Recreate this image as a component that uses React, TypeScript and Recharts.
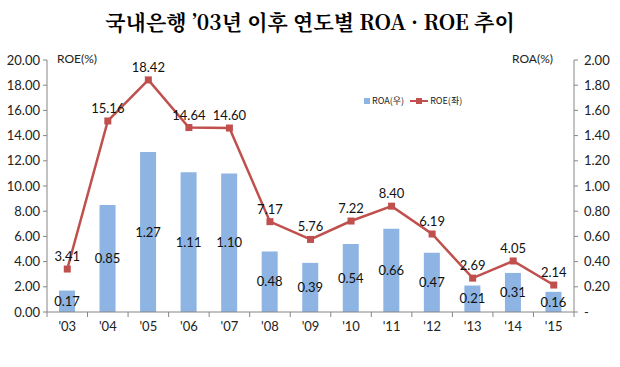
import React from "react";
import {
  ComposedChart,
  Bar,
  Line,
  XAxis,
  YAxis,
  LabelList,
} from "recharts";

const YEARS = ["'03", "'04", "'05", "'06", "'07", "'08", "'09", "'10", "'11", "'12", "'13", "'14", "'15"];
const ROA = [0.17, 0.85, 1.27, 1.11, 1.1, 0.48, 0.39, 0.54, 0.66, 0.47, 0.21, 0.31, 0.16];
const ROE = [3.41, 15.16, 18.42, 14.64, 14.6, 7.17, 5.76, 7.22, 8.4, 6.19, 2.69, 4.05, 2.14];
const LEFT_TICKS = [0, 2, 4, 6, 8, 10, 12, 14, 16, 18, 20];
const RIGHT_TICKS = [0, 0.2, 0.4, 0.6, 0.8, 1.0, 1.2, 1.4, 1.6, 1.8, 2.0];

const data = YEARS.map((year, i) => ({ year, roa: ROA[i], roe: ROE[i] }));

const BAR_COLOR = "#8db4e2";
const LINE_COLOR = "#c0504d";
const AXIS_COLOR = "#868686";
const FONT = "Lato, 'Noto Sans CJK KR', sans-serif";

// category label plus the tick mark on the band boundary (Excel style)
function YearTick(props: any) {
  const { x, y, payload, index } = props;
  const half = typeof payload.offset === "number" && payload.offset > 0 ? payload.offset : 20.27;
  const last = index === YEARS.length - 1;
  const top = y - 5;
  return (
    <g>
      <path
        d={`M${x - half},${top}V${top + 5}` + (last ? `M${x + half},${top}V${top + 5}` : "")}
        stroke={AXIS_COLOR}
        strokeWidth={1}
        fill="none"
      />
      <text x={x} y={y + 14} textAnchor="middle" fontSize={13} fill="#222" fontFamily={FONT}>
        {payload.value}
      </text>
    </g>
  );
}

function Legendish() {
  return (
    <div
      style={{
        position: "absolute",
        left: 364,
        top: 94,
        display: "flex",
        alignItems: "center",
        fontFamily: "'Noto Sans CJK KR', sans-serif",
        fontSize: 9,
        color: "#222",
      }}
    >
      <span style={{ width: 6, height: 6, background: BAR_COLOR, display: "inline-block", marginRight: 2 }} />
      <span style={{ marginRight: 6 }}>ROA(우)</span>
      <span style={{ position: "relative", width: 18, height: 6, display: "inline-block", marginRight: 2 }}>
        <span style={{ position: "absolute", left: 0, right: 0, top: 2, height: 2, background: LINE_COLOR }} />
        <span style={{ position: "absolute", left: 6, top: 0, width: 6, height: 6, background: LINE_COLOR }} />
      </span>
      <span>ROE(좌)</span>
    </div>
  );
}

export default function App() {
  return (
    <div style={{ position: "absolute", left: 0, top: 0, width: 620, height: 367, background: "#fff" }}>
      <div
        style={{
          position: "absolute",
          left: 0,
          top: 6,
          width: 620,
          textAlign: "center",
          fontFamily: "'Noto Serif CJK KR', 'Noto Sans CJK KR', serif",
          fontWeight: 700,
          fontSize: 21,
          color: "#000",
        }}
      >
        국내은행 ’03년 이후 연도별 ROA · ROE 추이
      </div>
      <div style={{ position: "absolute", left: 57, top: 51, fontFamily: FONT, fontSize: 12, color: "#222" }}>ROE(%)</div>
      <div style={{ position: "absolute", left: 512, top: 51, fontFamily: FONT, fontSize: 12, color: "#222" }}>ROA(%)</div>
      <Legendish />
      <div style={{ position: "absolute", left: 0, top: 0 }}>
        <ComposedChart
          width={620}
          height={367}
          data={data}
          margin={{ top: 60, right: 0, bottom: 25, left: 0 }}
          barCategoryGap={0}
        >
          <XAxis
            dataKey="year"
            height={30}
            axisLine={{ stroke: AXIS_COLOR }}
            tickLine={false}
            tickSize={5}
            tickMargin={0}
            tick={<YearTick />}
            interval={0}
          />
          <YAxis
            yAxisId="left"
            orientation="left"
            width={47}
            domain={[0, 20]}
            ticks={LEFT_TICKS}
            tickFormatter={(v: number) => v.toFixed(2)}
            axisLine={{ stroke: AXIS_COLOR }}
            tickLine={{ stroke: AXIS_COLOR }}
            tickSize={4}
            tickMargin={3}
            tick={{ fontSize: 13, fill: "#222", fontFamily: FONT }}
          />
          <YAxis
            yAxisId="right"
            orientation="right"
            width={46}
            domain={[0, 2]}
            ticks={RIGHT_TICKS}
            tickFormatter={(v: number) => (v === 0 ? "-" : v.toFixed(2))}
            axisLine={{ stroke: AXIS_COLOR }}
            tickLine={{ stroke: AXIS_COLOR }}
            tickSize={4}
            tickMargin={6}
            tick={{ fontSize: 13, fill: "#222", fontFamily: FONT }}
          />
          <Bar yAxisId="right" dataKey="roa" fill={BAR_COLOR} barSize={16} isAnimationActive={false}>
            <LabelList
              dataKey="roa"
              position="center"
              formatter={(v: number) => v.toFixed(2)}
              style={{ fontSize: 13, fill: "#111", fontFamily: FONT }}
            />
          </Bar>
          <Line
            yAxisId="left"
            dataKey="roe"
            stroke={LINE_COLOR}
            strokeWidth={2.5}
            isAnimationActive={false}
            dot={(p: any) => (
              <rect key={p.index} x={p.cx - 3.5} y={p.cy - 3.5} width={7} height={7} fill={LINE_COLOR} />
            )}
            activeDot={false}
          >
            <LabelList
              dataKey="roe"
              position="top"
              offset={8}
              formatter={(v: number) => v.toFixed(2)}
              style={{ fontSize: 13, fill: "#111", fontFamily: FONT }}
            />
          </Line>
        </ComposedChart>
      </div>
    </div>
  );
}
